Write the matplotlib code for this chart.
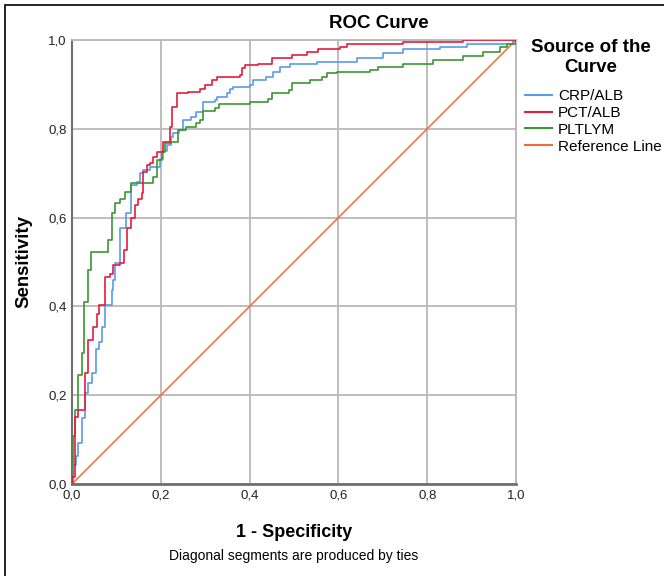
import matplotlib
matplotlib.use("Agg")
import matplotlib.pyplot as plt
from matplotlib.patches import Rectangle
from matplotlib.lines import Line2D
from matplotlib.ticker import FuncFormatter

plt.rcParams['font.family'] = ['Liberation Sans', 'DejaVu Sans']

# ROC step curves (1 - specificity, sensitivity)
crp_fpr = [0.000, 0.000, 0.010, 0.014, 0.022, 0.029, 0.037, 0.044, 0.054, 0.061,
           0.067, 0.074, 0.089, 0.093, 0.097, 0.107, 0.122, 0.134, 0.146, 0.153,
           0.161, 0.176, 0.198, 0.206, 0.213, 0.224, 0.227, 0.242, 0.250, 0.268,
           0.279, 0.296, 0.322, 0.326, 0.348, 0.356, 0.363, 0.401, 0.408, 0.438,
           0.453, 0.468, 0.491, 0.551, 0.641, 0.700, 0.746, 0.829, 0.889, 0.994, 1.000]
crp_tpr = [0.000, 0.043, 0.062, 0.092, 0.148, 0.204, 0.227, 0.250, 0.305, 0.320,
           0.354, 0.403, 0.437, 0.459, 0.497, 0.576, 0.610, 0.673, 0.681, 0.700,
           0.707, 0.714, 0.733, 0.750, 0.763, 0.782, 0.790, 0.797, 0.820, 0.826,
           0.838, 0.861, 0.865, 0.872, 0.880, 0.889, 0.895, 0.899, 0.910, 0.917,
           0.929, 0.940, 0.946, 0.951, 0.959, 0.970, 0.979, 0.985, 0.992, 0.998, 1.000]

pct_fpr = [0.000, 0.000, 0.007, 0.014, 0.029, 0.037, 0.047, 0.048, 0.056, 0.061,
           0.074, 0.086, 0.093, 0.108, 0.116, 0.123, 0.132, 0.142, 0.149, 0.157,
           0.161, 0.170, 0.176, 0.183, 0.191, 0.206, 0.221, 0.226, 0.237, 0.262,
           0.288, 0.300, 0.315, 0.326, 0.378, 0.382, 0.390, 0.420, 0.450, 0.495,
           0.529, 0.555, 0.604, 0.620, 0.746, 0.880, 1.000]
pct_tpr = [0.000, 0.016, 0.152, 0.167, 0.250, 0.324, 0.328, 0.354, 0.384, 0.403,
           0.467, 0.474, 0.493, 0.497, 0.527, 0.576, 0.598, 0.628, 0.643, 0.655,
           0.703, 0.718, 0.722, 0.737, 0.748, 0.771, 0.805, 0.850, 0.880, 0.884,
           0.889, 0.899, 0.910, 0.916, 0.921, 0.936, 0.944, 0.947, 0.959, 0.966,
           0.974, 0.979, 0.985, 0.991, 0.996, 1.000, 1.000]

plt_fpr = [0.000, 0.003, 0.007, 0.014, 0.022, 0.027, 0.035, 0.042, 0.082, 0.089,
           0.097, 0.108, 0.119, 0.134, 0.183, 0.191, 0.202, 0.210, 0.224, 0.239,
           0.257, 0.279, 0.288, 0.296, 0.322, 0.330, 0.401, 0.442, 0.450, 0.488,
           0.495, 0.536, 0.562, 0.574, 0.596, 0.671, 0.689, 0.746, 0.814, 0.880,
           0.926, 0.964, 0.980, 1.000]
plt_tpr = [0.000, 0.107, 0.167, 0.245, 0.294, 0.410, 0.482, 0.523, 0.550, 0.610,
           0.632, 0.643, 0.658, 0.677, 0.692, 0.730, 0.748, 0.767, 0.770, 0.797,
           0.805, 0.812, 0.820, 0.839, 0.846, 0.856, 0.861, 0.868, 0.880, 0.887,
           0.904, 0.910, 0.917, 0.925, 0.929, 0.932, 0.940, 0.947, 0.955, 0.964,
           0.974, 0.985, 0.990, 1.000]

ref_line = [0.0, 1.0]
ticks = [0.0, 0.2, 0.4, 0.6, 0.8, 1.0]
labels = ['CRP/ALB', 'PCT/ALB', 'PLTLYM', 'Reference Line']
colors = ['#5a9bea', '#e31b3c', '#3c9632', '#f26a3a']

fig = plt.figure(figsize=(6.64, 5.76), dpi=100)
fig.patch.set_facecolor('white')

# outer frame (right and bottom edges fall outside the image)
fig.patches.append(Rectangle((5 / 664, -0.05), 1.2, 1.05 - 5 / 576,
                             transform=fig.transFigure, fill=False,
                             edgecolor='black', linewidth=1.2, zorder=0))

ax = fig.add_axes([72 / 664, 92 / 576, 444 / 664, 444 / 576])
ax.set_xlim(0, 1)
ax.set_ylim(0, 1)

grid_col = '#b9b9b9'
ax.grid(True, color=grid_col, linewidth=1.3)
ax.set_axisbelow(True)
for s in ['top', 'right']:
    ax.spines[s].set_color(grid_col)
    ax.spines[s].set_linewidth(1.3)
ax.spines['left'].set_color('#707070')
ax.spines['left'].set_linewidth(1.5)
ax.spines['bottom'].set_color('#707070')
ax.spines['bottom'].set_linewidth(2)

ax.plot(ref_line, ref_line, color=colors[3], linewidth=1.1, zorder=2)
ax.step(crp_fpr, crp_tpr, where='post', color=colors[0], linewidth=1.2, zorder=3)
ax.step(plt_fpr, plt_tpr, where='post', color=colors[2], linewidth=1.2, zorder=3)
ax.step(pct_fpr, pct_tpr, where='post', color=colors[1], linewidth=1.2, zorder=4)

comma = FuncFormatter(lambda v, p: f'{v:.1f}'.replace('.', ','))
ax.set_xticks(ticks)
ax.set_yticks(ticks)
ax.xaxis.set_major_formatter(comma)
ax.yaxis.set_major_formatter(comma)
ax.tick_params(length=0, labelsize=9.5, colors='#222222', pad=4)

ax.set_xlabel('1 - Specificity', fontsize=13, fontweight='bold', labelpad=16)
ax.set_ylabel('Sensitivity', fontsize=13.4, fontweight='bold', labelpad=11)

fig.text(379 / 664, 1 - 24 / 576, 'ROC Curve', fontsize=13.5, fontweight='bold',
         ha='center', va='center')
fig.text(294 / 664, 1 - 556 / 576, 'Diagonal segments are produced by ties',
         fontsize=10, ha='center', va='center')

# legend title drawn separately so its spacing matches
fig.text(591 / 664, 1 - 47 / 576, 'Source of the', fontsize=13.5,
         fontweight='bold', ha='center', va='center')
fig.text(591 / 664, 1 - 67 / 576, 'Curve', fontsize=13.5,
         fontweight='bold', ha='center', va='center')

handles = [Line2D([], [], color=c, linewidth=1.5) for c in colors]
fig.legend(handles, labels, loc='upper left',
           bbox_to_anchor=(525 / 664, 1 - 89 / 576),
           frameon=False, fontsize=11, handlelength=1.76,
           handletextpad=0.39, labelspacing=0.19, borderpad=0,
           borderaxespad=0)

fig.savefig('out.png', dpi=100, facecolor='white')
